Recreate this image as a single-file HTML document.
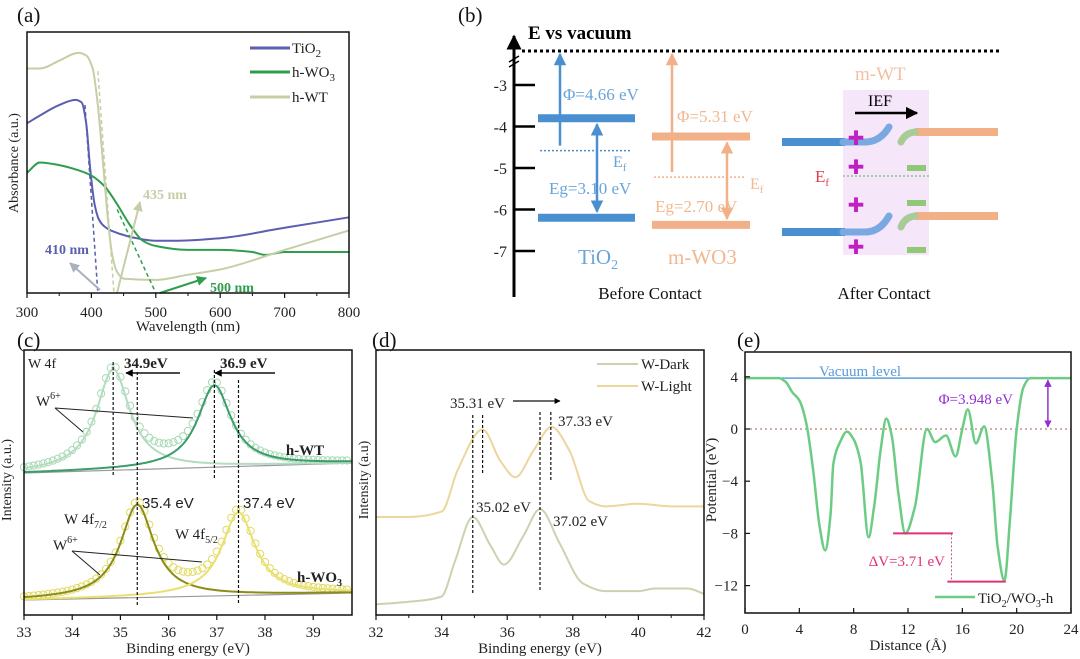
<!DOCTYPE html>
<html><head><meta charset="utf-8"><style>
html,body{margin:0;padding:0;background:#fff;}
svg{display:block;font-family:"Liberation Serif",serif;}
</style></head><body>
<svg id="fig" width="1080" height="659" viewBox="0 0 1080 659" xmlns="http://www.w3.org/2000/svg">
<defs>
<marker id="ah" viewBox="0 0 10 10" refX="9" refY="5" markerWidth="5" markerHeight="5" orient="auto-start-reverse"><path d="M0,0L10,5L0,10z" fill="context-stroke"/></marker>
<marker id="ahk" viewBox="0 0 10 10" refX="9" refY="5" markerWidth="5" markerHeight="5" orient="auto-start-reverse"><path d="M0,0L10,5L0,10z" fill="#000"/></marker>
</defs>
<g id="pa"></g>
<g id="pb"></g>
<g id="pc"></g>
<g id="pd"></g>
<g id="pe"></g>
</svg>
<script>
// ---------- Panel (a) data ----------
const aTiO2X=[300,320,350,375,385,392,398,405,412,420,430,470,500,530,600,700,800];
const aTiO2Y=[.65,.68,.72,.74,.73,.65,.48,.34,.28,.255,.24,.21,.20,.20,.21,.25,.29];
const aWO3X=[300,320,350,380,400,420,440,460,480,500,550,600,650,670,700,800];
const aWO3Y=[.46,.50,.49,.47,.45,.41,.34,.26,.20,.18,.165,.165,.157,.146,.157,.157];
const aWTX=[300,320,350,380,392,402,410,418,425,432,440,450,500,550,600,700,800];
const aWTY=[.86,.86,.89,.92,.91,.86,.72,.50,.30,.15,.08,.055,.05,.07,.09,.165,.24];
const aTicks=[300,400,500,600,700,800];
// ---------- Panel (b) data ----------
const bTicks=[-3,-4,-5,-6,-7];
const bTiO2=[-3.8,-6.2,-4.58]; // CB, VB, Ef
const bWO3=[-4.24,-6.37,-5.22];
// ---------- Panel (c) data ----------
const cTicks=[33,34,35,36,37,38,39];
const cWTcenters=[34.85,36.95];
const cWTheights=[101,82];
const cWO3centers=[35.35,37.45];
const cWO3heights=[93,83];
// ---------- Panel (d) data ----------
const dTicks=[32,34,36,38,40,42];
const dLightX=[32,33,34,34.5,35.25,35.8,36.25,36.8,37.35,37.9,38.5,39,40,41,42];
const dLightY=[.37,.37,.39,.55,.70,.58,.52,.62,.71,.62,.43,.41,.42,.41,.41];
const dDarkX=[32,33,34,34.4,34.95,35.5,35.9,36.5,37.0,37.6,38.3,39,40,40.5,41.5,42];
const dDarkY=[.04,.05,.07,.20,.37,.26,.19,.30,.40,.27,.12,.09,.09,.10,.10,.08];
// ---------- Panel (e) data ----------
const eX=[0,2.5,3,3.5,4,4.5,5,5.5,5.9,6.3,6.5,7,7.5,8,8.5,9.1,9.5,10,10.4,10.8,11.3,11.8,12.5,13.4,14,14.8,15.5,16,16.4,17,17.6,18.2,18.6,19.1,19.5,20,20.5,21,24];
const eY=[3.9,3.9,3.6,2.8,2.2,0.5,-3,-7.5,-9.3,-6.5,-2.7,-1,-0.2,-0.8,-2.5,-8.3,-6,-1.5,0.8,-0.5,-5,-8,-6,0,-1,-0.5,-2.1,0,1.5,-1.1,0.2,-4,-9,-11.6,-7,0,3.2,3.9,3.9];
const eXTicks=[0,4,8,12,16,20,24];
const eYTicks=[4,0,-4,-8,-12];

const NS="http://www.w3.org/2000/svg";
function el(parent,tag,attrs,text){const e=document.createElementNS(NS,tag);for(const k in attrs)e.setAttribute(k,attrs[k]);if(text!==undefined)e.textContent=text;parent.appendChild(e);return e;}
// monotone cubic (Fritsch-Carlson) path through x-sorted points
function smooth(pts){
 const n=pts.length;if(n<3)return "M"+pts.map(p=>p.join(",")).join("L");
 const dx=[],m=[],t=new Array(n);
 for(let i=0;i<n-1;i++){dx[i]=pts[i+1][0]-pts[i][0];m[i]=(pts[i+1][1]-pts[i][1])/dx[i];}
 t[0]=m[0];t[n-1]=m[n-2];
 for(let i=1;i<n-1;i++){if(m[i-1]*m[i]<=0)t[i]=0;else{const w1=2*dx[i]+dx[i-1],w2=dx[i]+2*dx[i-1];t[i]=(w1+w2)/(w1/m[i-1]+w2/m[i]);}}
 let d="M"+pts[0][0].toFixed(1)+","+pts[0][1].toFixed(1);
 for(let i=0;i<n-1;i++){const h=dx[i]/3;
  d+="C"+(pts[i][0]+h).toFixed(1)+","+(pts[i][1]+t[i]*h).toFixed(1)+" "+(pts[i+1][0]-h).toFixed(1)+","+(pts[i+1][1]-t[i+1]*h).toFixed(1)+" "+pts[i+1][0].toFixed(1)+","+pts[i+1][1].toFixed(1);}
 return d;}
function txt(g,x,y,s,o){o=o||{};const t=el(g,"text",Object.assign({x:x,y:y,"font-size":o.fs||15,fill:o.fill||"#222","text-anchor":o.anchor||"start","font-weight":o.fw||"normal"},o.extra||{}));t.innerHTML=s;return t;}

// ================= Panel A =================
(function(){
const g=document.getElementById('pa');
const x0=27,x1=349,y0=32,y1=293;
const sx=v=>x0+(v-300)/500*(x1-x0), sy=v=>y1-v*(y1-y0);
txt(g,17,22,"(a)",{fs:21,fill:"#111"});
const series=[[aTiO2X,aTiO2Y,"#5a5fb0","tio2-curve"],[aWO3X,aWO3Y,"#2f9e4c","h-wo3-curve"],[aWTX,aWTY,"#c4cfa6","h-wt-curve"]];
series.forEach(s=>{const p=el(g,"path",{d:smooth(s[0].map((x,i)=>[sx(x),sy(s[1][i])])),fill:"none",stroke:s[2],"stroke-width":2});
});
el(g,"line",{x1:sx(390),y1:sy(.72),x2:sx(410),y2:y1,stroke:"#5a5fb0","stroke-dasharray":"4,3","stroke-width":1.5});
el(g,"line",{x1:sx(410),y1:sy(.85),x2:sx(435),y2:y1,stroke:"#c4cfa6","stroke-dasharray":"4,3","stroke-width":1.5});
el(g,"line",{x1:sx(440),y1:sy(.32),x2:sx(500),y2:y1,stroke:"#2f9e4c","stroke-dasharray":"4,3","stroke-width":1.5});
el(g,"line",{x1:100,y1:290,x2:70,y2:263,stroke:"#aab0bc","stroke-width":2,"marker-end":"url(#ah)"});
el(g,"line",{x1:117,y1:293,x2:140,y2:202,stroke:"#c4cfa6","stroke-width":2,"marker-end":"url(#ah)"});
el(g,"line",{x1:160,y1:293,x2:206,y2:278,stroke:"#2f9e4c","stroke-width":2,"marker-end":"url(#ah)"});
txt(g,143,199,"435 nm",{fs:14,fill:"#c4cfa6",fw:"bold"});
txt(g,45,254,"410 nm",{fs:14,fill:"#5a5fb0",fw:"bold"});
txt(g,210,292,"500 nm",{fs:14,fill:"#2f9e4c",fw:"bold"});
[["TiO<tspan font-size='11' dy='4'>2</tspan>","#5a5fb0",48],["h-WO<tspan font-size='11' dy='4'>3</tspan>","#2f9e4c",72],["h-WT","#c4cfa6",97]].forEach((L,i)=>{
const gl=el(g,"g",{});
el(gl,"line",{x1:250,y1:L[2],x2:290,y2:L[2],stroke:L[1],"stroke-width":3});txt(gl,292,L[2]+5,L[0],{fs:15});});
el(g,"rect",{x:x0,y:y0,width:x1-x0,height:y1-y0,fill:"none",stroke:"#111","stroke-width":1.5});
aTicks.forEach(t=>{el(g,"line",{x1:sx(t),y1:y1,x2:sx(t),y2:y1+5,stroke:"#111","stroke-width":1.2});txt(g,sx(t),317,t,{fs:15,anchor:"middle"});});
[350,450,550,650,750].forEach(t=>el(g,"line",{x1:sx(t),y1:y1,x2:sx(t),y2:y1+3,stroke:"#111"}));
txt(g,188,331,"Wavelength (nm)",{fs:15,anchor:"middle"});
txt(g,0,0,"Absorbance (a.u.)",{fs:14,anchor:"middle",extra:{transform:"translate(18,163) rotate(-90)"}});
})();

// ================= Panel B =================
(function(){
const g=document.getElementById('pb');
const ax=514, ey=E=>85+(-3-E)*41.5;
txt(g,458,22,"(b)",{fs:21,fill:"#111"});
el(g,"line",{x1:ax,y1:297,x2:ax,y2:36,stroke:"#000","stroke-width":3,"marker-end":"url(#ahk)"});
el(g,"line",{x1:509,y1:62,x2:519,y2:56,stroke:"#000","stroke-width":1.5});
el(g,"line",{x1:509,y1:67,x2:519,y2:61,stroke:"#000","stroke-width":1.5});
txt(g,528,39,"E vs vacuum",{fs:19,fw:"bold",fill:"#000"});
const vac=el(g,"line",{x1:522,y1:51,x2:1002,y2:51,stroke:"#000","stroke-width":3,"stroke-dasharray":"3,3"});

bTicks.forEach(t=>{el(g,"line",{x1:ax,y1:ey(t),x2:535,y2:ey(t),stroke:"#000","stroke-width":2.5});txt(g,507,ey(t)+6,t,{fs:16,anchor:"end"});});
function band(x1,x2,vals,col,name,arrx,dblx){
 const cb=el(g,"line",{x1:x1,y1:ey(vals[0]),x2:x2,y2:ey(vals[0]),stroke:col,"stroke-width":8});
 
 const vb=el(g,"line",{x1:x1,y1:ey(vals[1]),x2:x2,y2:ey(vals[1]),stroke:col,"stroke-width":8});
 
 el(g,"line",{x1:x1+2,y1:ey(vals[2]),x2:x2-5,y2:ey(vals[2]),stroke:col,"stroke-width":1.5,"stroke-dasharray":"2,2"});
 el(g,"line",{x1:arrx,y1:ey(vals[2])-5,x2:arrx,y2:54,stroke:col,"stroke-width":2.5,"marker-end":"url(#ah)"});
 el(g,"line",{x1:dblx,y1:ey(vals[0])+6,x2:dblx,y2:ey(vals[1])-6,stroke:col,"stroke-width":2.5,"marker-end":"url(#ah)","marker-start":"url(#ah)"});
}
band(538,635,bTiO2,"#4a90d0","tio2",560,597);
band(652,750,bWO3,"#f2b088","wo3",672,727);
txt(g,563,100,"Φ=4.66 eV",{fs:17,fill:"#6aa4d8"});
txt(g,613,167,"E<tspan font-size='11' dy='4'>f</tspan>",{fs:16,fill:"#6aa4d8"});
txt(g,549,194,"Eg=3.10 eV",{fs:17,fill:"#6aa4d8"});
txt(g,578,264,"TiO<tspan font-size='14' dy='5'>2</tspan>",{fs:21,fill:"#6aa4d8"});
txt(g,677,122,"Φ=5.31 eV",{fs:17,fill:"#f2b890"});
txt(g,750,189,"E<tspan font-size='11' dy='4'>f</tspan>",{fs:16,fill:"#f2b890"});
txt(g,655,212,"Eg=2.70 eV",{fs:17,fill:"#f2b890"});
txt(g,668,264,"m-WO3",{fs:21,fill:"#f2b890"});
txt(g,650,299,"Before Contact",{fs:17,anchor:"middle",fill:"#111"});
txt(g,884,299,"After Contact",{fs:17,anchor:"middle",fill:"#111"});
const r=el(g,"rect",{x:843,y:90,width:86,height:165,fill:"#f6e6fa"});

txt(g,855,80,"m-WT",{fs:19,fill:"#f2c0a0"});
txt(g,868,106,"IEF",{fs:16,fill:"#000"});
el(g,"line",{x1:855,y1:113,x2:917,y2:113,stroke:"#000","stroke-width":2.5,"marker-end":"url(#ahk)"});
[[142,127],[232,216]].forEach(([y,yt])=>{
 el(g,"line",{x1:782,y1:y,x2:845,y2:y,stroke:"#4a90d0","stroke-width":8});
 el(g,"path",{d:`M843,${y} L865,${y} Q880,${y} 889,${yt}`,fill:"none",stroke:"#7aa8e0","stroke-width":7,"stroke-linecap":"round"});
});
[[132,142],[216,227]].forEach(([y,yb])=>{
 el(g,"line",{x1:915,y1:y,x2:998,y2:y,stroke:"#f2b088","stroke-width":8});
 el(g,"path",{d:`M901,${yb} Q905,${y+1} 915,${y}`,fill:"none",stroke:"#a8cc98","stroke-width":7,"stroke-linecap":"round"});
});
[137,166,204,246].forEach(y=>{txt(g,856,y+8,"✚",{fs:20,anchor:"middle",fill:"#c020c0"});});
[168,203,250].forEach(y=>el(g,"rect",{x:907,y:y-3,width:19,height:6,fill:"#90c878"}));
el(g,"line",{x1:843,y1:176,x2:930,y2:176,stroke:"#90c090","stroke-width":1.5,"stroke-dasharray":"2,2"});
txt(g,815,182,"E<tspan font-size='11' dy='4'>f</tspan>",{fs:17,fill:"#e04050"});
})();

// ================= Panel C =================
(function(){
const g=document.getElementById('pc');
const x0=24,x1=352,y0=350,y1=615;
const sx=v=>x0+(v-33)*48.2;
txt(g,17,347,"(c)",{fs:21,fill:"#111"});
const lor=(x,c,h)=>h/(1+Math.pow((x-c)/0.42,2));
function stack(centers,heights,bl0,bl1,cols,names){
 const base=x=>bl0+(bl1-bl0)*(x-33)/6.8;
 const xs=[];for(let x=33;x<=39.8;x+=0.05)xs.push(x);
 el(g,"line",{x1:x0,y1:base(33),x2:x1,y2:base(39.8),stroke:"#999","stroke-width":1.2});
 for(let x=33;x<=39.8;x+=0.1){const v=centers.reduce((s,c,i)=>s+lor(x,c,heights[i]),0);
  el(g,"circle",{cx:sx(x),cy:base(x)-v,r:3.6,fill:"none",stroke:cols[2],"stroke-width":1});}
 centers.forEach((c,i)=>{const p=el(g,"path",{d:smooth(xs.map(x=>[sx(x),base(x)-lor(x,c,heights[i])])),fill:"none",stroke:cols[i],"stroke-width":2});
 });
}
stack(cWTcenters,cWTheights,473,463,["#b4dcc0","#3c9c6c","#a8d8b4"],["h-wt-fit-7-2","h-wt-fit-5-2"]);
stack(cWO3centers,cWO3heights,600,593,["#8c8c18","#eae070","#e2da60"],["h-wo3-fit-7-2","h-wo3-fit-5-2"]);
[[34.85,362,475],[35.35,372,605],[36.95,370,480],[37.45,380,603]].forEach(d=>el(g,"line",{x1:sx(d[0]),y1:d[1],x2:sx(d[0]),y2:d[2],stroke:"#111","stroke-width":1.2,"stroke-dasharray":"3,2"}));
txt(g,28,368,"W 4f",{fs:14});
txt(g,124,368,"34.9eV",{fs:15,fw:"bold"});
el(g,"line",{x1:180,y1:373,x2:126,y2:373,stroke:"#111","stroke-width":1.5,"marker-end":"url(#ahk)"});
txt(g,220,368,"36.9 eV",{fs:15,fw:"bold"});
el(g,"line",{x1:275,y1:373,x2:215,y2:373,stroke:"#111","stroke-width":1.5,"marker-end":"url(#ahk)"});
txt(g,36,406,"W<tspan font-size='10' dy='-7'>6+</tspan>",{fs:15});
el(g,"line",{x1:55,y1:408,x2:193,y2:418,stroke:"#222"});el(g,"line",{x1:55,y1:408,x2:83,y2:432,stroke:"#222"});
txt(g,305,455,"h-WT",{fs:15,fw:"bold",anchor:"middle"});
txt(g,142,508,"35.4 eV",{fs:15,extra:{"font-family":"Liberation Sans,sans-serif"}});
txt(g,243,508,"37.4 eV",{fs:15,extra:{"font-family":"Liberation Sans,sans-serif"}});
txt(g,64,524,"W 4f<tspan font-size='10' dy='4'>7/2</tspan>",{fs:15});
txt(g,175,539,"W 4f<tspan font-size='10' dy='4'>5/2</tspan>",{fs:15});
txt(g,53,550,"W<tspan font-size='10' dy='-7'>6+</tspan>",{fs:15});
el(g,"line",{x1:72,y1:551,x2:202,y2:562,stroke:"#222"});el(g,"line",{x1:72,y1:551,x2:100,y2:575,stroke:"#222"});
txt(g,297,582,"h-WO<tspan font-size='10' dy='4'>3</tspan>",{fs:15,fw:"bold"});
el(g,"rect",{x:x0,y:y0,width:x1-x0,height:y1-y0,fill:"none",stroke:"#111","stroke-width":1.5});
cTicks.forEach(t=>{el(g,"line",{x1:sx(t),y1:y1,x2:sx(t),y2:y1+5,stroke:"#111","stroke-width":1.2});txt(g,sx(t),637,t,{fs:15,anchor:"middle"});});
txt(g,188,653,"Binding energy (eV)",{fs:15,anchor:"middle"});
txt(g,0,0,"Intensity (a.u.)",{fs:14,anchor:"middle",extra:{transform:"translate(11,480) rotate(-90)"}});
})();

// ================= Panel D =================
(function(){
const g=document.getElementById('pd');
const x0=376,x1=704,y0=350,y1=615;
const sx=v=>x0+(v-32)*32.8, sy=v=>y1-v*(y1-y0);
txt(g,372,347,"(d)",{fs:21,fill:"#111"});
[[dLightX,dLightY,"#ecd69c","w-light-curve"],[dDarkX,dDarkY,"#c8d4b0","w-dark-curve"]].forEach(s=>{
 const p=el(g,"path",{d:smooth(s[0].map((x,i)=>[sx(x),sy(s[1][i])])),fill:"none",stroke:s[2],"stroke-width":2});
 });
[[34.95,415,595],[35.25,415,475],[37.0,412,592],[37.33,412,482]].forEach(d=>el(g,"line",{x1:sx(d[0]),y1:d[1],x2:sx(d[0]),y2:d[2],stroke:"#111","stroke-width":1.2,"stroke-dasharray":"3,2"}));
txt(g,450,408,"35.31 eV",{fs:15});
el(g,"line",{x1:513,y1:401,x2:560,y2:401,stroke:"#111","stroke-width":1.2,"marker-end":"url(#ahk)"});
txt(g,558,426,"37.33 eV",{fs:15});
txt(g,476,512,"35.02 eV",{fs:15});
txt(g,553,526,"37.02 eV",{fs:15});
[["W-Dark","#c8d4b0",364],["W-Light","#ecd69c",386]].forEach(L=>{const gl=el(g,"g",{});
el(gl,"line",{x1:597,y1:L[2],x2:638,y2:L[2],stroke:L[1],"stroke-width":2});txt(gl,641,L[2]+5,L[0],{fs:15});});
el(g,"rect",{x:x0,y:y0,width:x1-x0,height:y1-y0,fill:"none",stroke:"#111","stroke-width":1.5});
dTicks.forEach(t=>{el(g,"line",{x1:sx(t),y1:y1,x2:sx(t),y2:y1+5,stroke:"#111","stroke-width":1.2});txt(g,sx(t),637,t,{fs:15,anchor:"middle"});});
[33,35,37,39,41].forEach(t=>el(g,"line",{x1:sx(t),y1:y1,x2:sx(t),y2:y1+3,stroke:"#111"}));
txt(g,540,653,"Binding energy (eV)",{fs:15,anchor:"middle"});
txt(g,0,0,"Intensity (a.u)",{fs:14,anchor:"middle",extra:{transform:"translate(368,480) rotate(-90)"}});
})();

// ================= Panel E =================
(function(){
const g=document.getElementById('pe');
const x0=745,x1=1071,y0=352,y1=613;
const sx=v=>x0+v*(x1-x0)/24, sy=v=>429-v*13.05;
txt(g,737,347,"(e)",{fs:21,fill:"#111"});
el(g,"line",{x1:x0,y1:sy(0),x2:x1,y2:sy(0),stroke:"#a06050","stroke-width":1,"stroke-dasharray":"2,3"});
const vl=el(g,"line",{x1:sx(2.5),y1:sy(3.9),x2:sx(21),y2:sy(3.9),stroke:"#5aa0e0","stroke-width":1.5});

txt(g,860,376,"Vacuum level",{fs:15,fill:"#5a9ad8",anchor:"middle"});
const p=el(g,"path",{d:smooth(eX.map((x,i)=>[sx(x),sy(eY[i])])),fill:"none",stroke:"#6ccc84","stroke-width":2.5});

el(g,"line",{x1:sx(22.3),y1:sy(3.9)+2,x2:sx(22.3),y2:sy(0)-2,stroke:"#9030d0","stroke-width":1.5,"marker-end":"url(#ah)","marker-start":"url(#ah)"});
txt(g,1013,404,"Φ=3.948 eV",{fs:15,fill:"#9030d0",anchor:"end"});
el(g,"line",{x1:sx(10.9),y1:sy(-8),x2:sx(15.3),y2:sy(-8),stroke:"#e0307a","stroke-width":2});
el(g,"line",{x1:sx(14.9),y1:sy(-11.7),x2:sx(19.2),y2:sy(-11.7),stroke:"#e0307a","stroke-width":2});
el(g,"line",{x1:sx(15.2),y1:sy(-8),x2:sx(15.2),y2:sy(-11.7),stroke:"#c05090","stroke-width":1,"stroke-dasharray":"2,2"});
txt(g,945,566,"ΔV=3.71 eV",{fs:15,fill:"#e0307a",anchor:"end"});
const gl=el(g,"g",{});
el(gl,"line",{x1:935,y1:597,x2:975,y2:597,stroke:"#6ccc84","stroke-width":2.5});
txt(gl,978,603,"TiO<tspan font-size='10' dy='4'>2</tspan><tspan dy='-4'>/WO</tspan><tspan font-size='10' dy='4'>3</tspan><tspan dy='-4'>-h</tspan>",{fs:15});
el(g,"rect",{x:x0,y:y0,width:x1-x0,height:y1-y0,fill:"none",stroke:"#111","stroke-width":1.5});
eXTicks.forEach(t=>{el(g,"line",{x1:sx(t),y1:y1,x2:sx(t),y2:y1-5,stroke:"#111","stroke-width":1.2});txt(g,sx(t),634,t,{fs:15,anchor:"middle"});});
eYTicks.forEach(t=>{el(g,"line",{x1:x0,y1:sy(t),x2:x0+5,y2:sy(t),stroke:"#111","stroke-width":1.2});txt(g,738,sy(t)+5,t===0?"0":(t<0?"−"+(-t):t),{fs:15,anchor:"end"});});
txt(g,908,650,"Distance (Å)",{fs:15,anchor:"middle"});
txt(g,0,0,"Potential (eV)",{fs:15,anchor:"middle",extra:{transform:"translate(716,480) rotate(-90)"}});
})();
</script>
</body></html>
